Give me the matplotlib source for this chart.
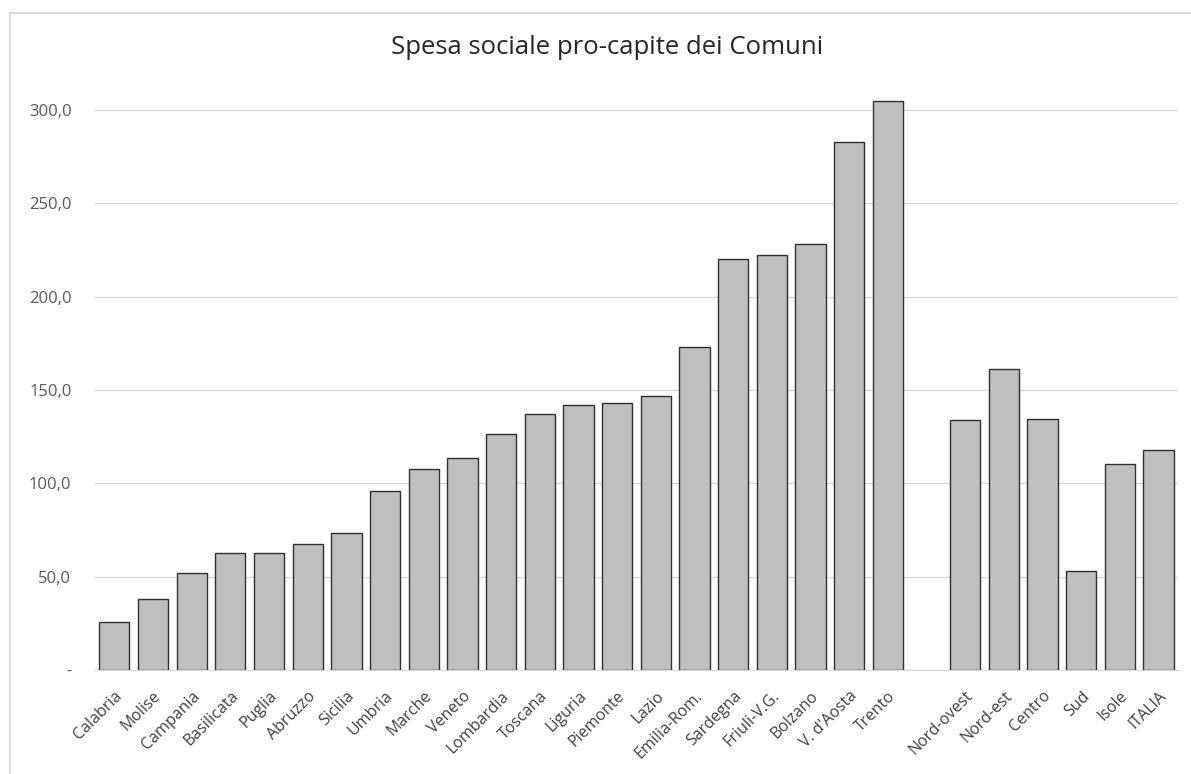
import matplotlib
matplotlib.use('Agg')
import matplotlib.pyplot as plt
from matplotlib.lines import Line2D
from matplotlib.ticker import FuncFormatter
import numpy as np

# Spesa sociale pro-capite (euro) per regione e ripartizione
regioni = ['Calabria', 'Molise', 'Campania', 'Basilicata', 'Puglia', 'Abruzzo',
           'Sicilia', 'Umbria', 'Marche', 'Veneto', 'Lombardia', 'Toscana',
           'Liguria', 'Piemonte', 'Lazio', 'Emilia-Rom.', 'Sardegna',
           'Friuli-V.G.', 'Bolzano', "V. d'Aosta", 'Trento']
spesa_regioni = [25.5, 38.2, 52.1, 62.9, 62.9, 67.3, 73.4, 96.1, 107.5, 113.6,
                 126.3, 137.3, 142.1, 143.2, 146.6, 173.0, 220.4, 222.5, 228.0,
                 283.0, 304.6]
ripartizioni = ['Nord-ovest', 'Nord-est', 'Centro', 'Sud', 'Isole', 'ITALIA']
spesa_ripartizioni = [134.0, 161.5, 134.5, 53.2, 110.3, 118.1]
y_ticks = [0, 50, 100, 150, 200, 250, 300]

plt.rcParams['font.family'] = ['Open Sans', 'DejaVu Sans']

fig = plt.figure(figsize=(11.91, 7.74), dpi=100)
ax = fig.add_axes([0.0798, 0.1344, 0.9092, 0.7476])

# le ripartizioni sono separate dalle regioni da uno slot vuoto
x_reg = np.arange(len(regioni))
x_rip = np.arange(len(ripartizioni)) + len(regioni) + 1
labels = regioni + ripartizioni
xs = np.concatenate([x_reg, x_rip])
vals = spesa_regioni + spesa_ripartizioni

ax.bar(xs, vals, width=0.78, color='#bfbfbf', edgecolor='#303030',
       linewidth=1.0, zorder=3)

ax.set_xlim(-0.5, xs[-1] + 0.5)
ax.set_ylim(0, 310)
ax.set_yticks(y_ticks)
ax.yaxis.set_major_formatter(FuncFormatter(
    lambda v, p: '-' if v == 0 else f'{v:.1f}'.replace('.', ',')))
ax.grid(axis='y', color='#d9d9d9', linewidth=1.0, zorder=0)

ax.set_xticks(xs)
ax.set_xticklabels(labels, rotation=45, ha='right', rotation_mode='anchor',
                   fontsize=11.5, color='#404040')
ax.tick_params(axis='x', length=0, pad=13)
ax.tick_params(axis='y', length=0, pad=17, labelsize=12, labelcolor='#595959')

for s in ['top', 'right', 'left']:
    ax.spines[s].set_visible(False)
ax.spines['bottom'].set_color('#d9d9d9')
ax.spines['bottom'].set_zorder(4)

fig.text(0.51, 0.938, 'Spesa sociale pro-capite dei Comuni', ha='center',
         va='center', fontsize=18.5, color='#262626')

# bordo dell'area del grafico
fig.add_artist(Line2D([10 / 1191, 10 / 1191], [0, 1 - 13 / 774],
                      transform=fig.transFigure, color='#d9d9d9', lw=1.3))
fig.add_artist(Line2D([10 / 1191, 1], [1 - 13 / 774, 1 - 13 / 774],
                      transform=fig.transFigure, color='#d9d9d9', lw=1.3))

fig.savefig('out.png', dpi=100)
